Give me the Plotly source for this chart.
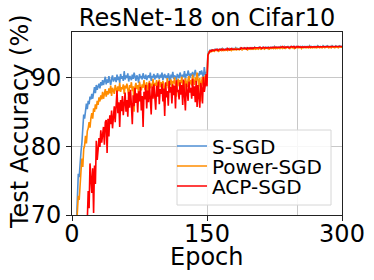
import plotly.graph_objects as go

epochs = list(range(1, 301))

s_sgd_pre = [
    45, 55, 61, 65, 69, 73.5, 76, 75.5, 78.5, 79.2,
    80.5, 83.5, 84.6, 84, 85.8, 86.2, 85.4, 86.6, 86.1, 87.2,
    86.8, 87.6, 86.9, 88.1, 88.6, 87.7, 88.9, 88.2, 88.6, 89.1,
    88.4, 89.3, 88.8, 89.6, 88.9, 89.4, 90.1, 89.0, 89.7, 89.2,
    90.2, 89.5, 88.9, 89.8, 90.3, 89.4, 89.9, 90.0, 89.3, 90.4,
    89.6, 90.1, 89.2, 90.5, 89.8, 90.2, 89.5, 90.9, 89.7, 90.3,
    89.9, 90.6, 89.4, 90.2, 90.0, 89.6, 90.4, 89.8, 90.7, 90.1,
    89.5, 90.3, 90.0, 89.2, 90.5, 89.9, 90.2, 89.7, 90.6, 90.0,
    89.8, 90.4, 89.6, 90.1, 90.3, 89.9, 90.7, 89.5, 90.2, 90.0,
    90.5, 89.7, 90.3, 89.9, 90.6, 90.1, 89.8, 90.4, 90.0, 90.7,
    89.6, 90.2, 90.5, 89.9, 90.3, 89.7, 90.6, 90.1, 88.9, 90.4,
    90.0, 90.8, 89.8, 90.3, 90.1, 89.6, 90.5, 90.2, 89.9, 90.7,
    90.3, 89.8, 90.4, 90.1, 90.9, 89.7, 90.5, 90.2, 91.0, 90.3,
    89.9, 90.6, 90.2, 90.8, 90.0, 90.5, 91.1, 90.3, 89.8, 90.6,
    90.2, 90.9, 90.4, 91.0, 90.5, 89.9, 91.5, 90.4, 90.8, 90.6,
]
s_sgd_post = [
    93.4, 93.8, 93.9, 93.8, 94.0, 93.9, 94.0, 93.9, 94.1, 94.0,
    94.0, 94.1, 93.9, 94.0, 94.1, 94.0, 94.2, 94.0, 94.1, 94.0,
    94.1, 94.2, 94.0, 94.1, 94.2, 94.1, 94.0, 94.2, 94.1, 94.2,
    94.1, 94.3, 94.1, 94.2, 94.2, 94.1, 94.3, 94.2, 94.1, 94.2,
    94.3, 94.2, 94.2, 94.3, 94.1, 94.2, 94.3, 94.2, 94.3, 94.2,
    94.3, 94.2, 94.4, 94.2, 94.3, 94.3, 94.2, 94.4, 94.3, 94.2,
    94.3, 94.4, 94.3, 94.2, 94.4, 94.3, 94.3, 94.4, 94.2, 94.3,
    94.4, 94.3, 94.4, 94.3, 94.5, 94.3, 94.4, 94.3, 94.4, 94.4,
    94.3, 94.5, 94.4, 94.3, 94.4, 94.5, 94.3, 94.4, 94.4, 94.5,
    94.4, 94.3, 94.5, 94.4, 94.4, 94.5, 94.3, 94.4, 94.5, 94.4,
    94.5, 94.4, 94.4, 94.5, 94.3, 94.5, 94.4, 94.5, 94.4, 94.5,
    94.4, 94.5, 94.4, 94.6, 94.4, 94.5, 94.4, 94.5, 94.5, 94.4,
    94.5, 94.4, 94.6, 94.5, 94.4, 94.5, 94.5, 94.4, 94.6, 94.5,
    94.4, 94.5, 94.5, 94.6, 94.4, 94.5, 94.5, 94.4, 94.6, 94.5,
    94.5, 94.4, 94.6, 94.5, 94.5, 94.4, 94.6, 94.5, 94.5, 94.5,
]

power_sgd_pre = [
    40, 50, 57, 63, 68, 70.5, 72.8, 72.2, 75.0, 76.4,
    78.2, 77.0, 79.6, 80.1, 81.5, 80.4, 82.2, 82.6, 83.5, 82.7,
    84.1, 84.8, 84.0, 85.5, 85.0, 86.1, 85.4, 86.6, 86.0, 87.1,
    86.5, 87.4, 86.8, 87.9, 86.9, 87.6, 88.3, 87.2, 88.0, 87.5,
    88.4, 87.7, 88.8, 87.3, 88.5, 88.1, 87.6, 88.9, 88.2, 87.8,
    88.7, 88.0, 89.2, 87.9, 88.6, 88.3, 89.0, 87.6, 88.8, 88.4,
    89.1, 88.2, 87.4, 88.9, 88.5, 89.3, 88.0, 88.7, 85.0, 88.6,
    89.2, 88.3, 88.9, 87.8, 89.4, 88.6, 88.1, 89.0, 88.5, 89.6,
    88.2, 88.8, 89.3, 87.9, 88.9, 89.5, 88.4, 89.1, 88.7, 89.8,
    88.5, 89.2, 88.8, 89.6, 88.3, 89.0, 89.7, 88.6, 89.3, 88.9,
    89.5, 88.7, 85.8, 89.2, 88.8, 89.9, 88.4, 89.4, 89.0, 89.7,
    88.6, 89.5, 89.1, 90.0, 88.9, 87.2, 89.3, 89.8, 88.7, 89.6,
    89.2, 90.1, 88.8, 89.5, 87.2, 89.9, 89.3, 88.6, 89.7, 90.2,
    89.0, 89.6, 88.8, 90.4, 89.4, 88.9, 90.0, 89.3, 90.7, 89.5,
    88.7, 89.9, 86.5, 89.4, 90.1, 88.8, 89.6, 90.3, 89.2, 89.8,
]
power_sgd_post = [
    93.3, 93.7, 93.8, 93.7, 93.9, 93.8, 93.9, 93.8, 94.0, 93.9,
    93.9, 94.0, 93.8, 93.9, 94.0, 93.9, 94.1, 93.9, 94.0, 93.9,
    94.0, 94.1, 93.9, 94.0, 94.1, 94.0, 93.9, 94.1, 94.0, 94.1,
    94.0, 94.2, 94.0, 94.1, 94.1, 94.0, 94.2, 94.1, 94.0, 94.1,
    94.2, 94.1, 94.1, 94.2, 94.0, 94.1, 94.2, 94.1, 94.2, 94.1,
    94.2, 94.1, 94.3, 94.1, 94.2, 94.2, 94.1, 94.3, 94.2, 94.1,
    94.2, 94.3, 94.2, 94.1, 94.3, 94.2, 94.2, 94.3, 94.1, 94.2,
    94.3, 94.2, 94.3, 94.2, 94.4, 94.2, 94.3, 94.2, 94.3, 94.3,
    94.2, 94.4, 94.3, 94.2, 94.3, 94.4, 94.2, 94.3, 94.3, 94.4,
    94.3, 94.2, 94.4, 94.3, 94.3, 94.4, 94.2, 94.3, 94.4, 94.3,
    94.4, 94.3, 94.3, 94.4, 94.2, 94.4, 94.3, 94.4, 94.3, 94.4,
    94.3, 94.4, 94.3, 94.5, 94.3, 94.4, 94.3, 94.4, 94.4, 94.3,
    94.4, 94.3, 94.5, 94.4, 94.3, 94.4, 94.4, 94.3, 94.5, 94.4,
    94.3, 94.4, 94.4, 94.5, 94.3, 94.4, 94.4, 94.3, 94.5, 94.4,
    94.4, 94.3, 94.5, 94.4, 94.4, 94.3, 94.5, 94.4, 94.4, 94.4,
]

acp_sgd_pre = [
    30, 38, 45, 50, 54, 57, 59, 61, 62, 63,
    64, 65, 66, 66.5, 67, 68.5, 69.2, 73.5, 71.0, 77.5,
    75.0, 73.2, 76.8, 70.3, 77.2, 74.5, 80.8, 78.0, 79.5, 81.2,
    79.9, 82.3, 80.5, 81.8, 82.8, 80.2, 83.5, 83.8, 79.0, 84.0,
    81.4, 84.5, 83.2, 85.2, 82.6, 84.2, 85.8, 83.5, 86.0, 88.1,
    84.8, 86.4, 82.8, 86.7, 85.1, 87.3, 84.5, 86.2, 87.8, 85.0,
    86.7, 84.3, 87.9, 85.6, 88.2, 86.0, 83.2, 87.4, 85.8, 88.5,
    86.3, 87.7, 84.9, 88.0, 86.5, 88.6, 85.2, 87.3, 82.8, 87.9,
    86.8, 88.9, 85.5, 88.1, 86.4, 89.2, 87.0, 84.6, 88.7, 86.9,
    89.0, 87.5, 85.3, 88.8, 87.2, 89.4, 86.1, 88.3, 87.6, 89.1,
    86.5, 88.4, 84.4, 89.3, 87.1, 88.0, 85.9, 89.5, 87.8, 88.6,
    86.2, 89.0, 87.4, 88.8, 85.5, 89.6, 87.9, 88.2, 86.8, 89.3,
    87.5, 88.9, 86.0, 89.7, 87.2, 85.2, 89.1, 88.0, 86.6, 89.4,
    87.8, 88.5, 86.9, 89.8, 87.3, 88.7, 86.4, 89.5, 85.7, 88.9,
    87.6, 85.6, 89.2, 88.3, 86.2, 90.1, 87.9, 88.8, 90.5, 88.7,
]
acp_sgd_post = [
    93.2, 93.7, 93.8, 93.9, 93.8, 94.0, 93.9, 93.9, 94.0, 94.0,
    94.1, 93.9, 94.0, 94.1, 94.0, 94.1, 94.0, 94.1, 94.0, 94.1,
    94.1, 94.0, 94.2, 94.1, 94.0, 94.1, 94.2, 94.1, 94.1, 94.2,
    94.1, 94.2, 94.2, 94.1, 94.2, 94.2, 94.1, 94.3, 94.2, 94.2,
    94.2, 94.3, 94.2, 94.1, 94.3, 94.2, 94.2, 94.3, 94.2, 94.3,
    94.2, 94.3, 94.3, 94.2, 94.3, 94.2, 94.3, 94.3, 94.4, 94.3,
    94.2, 94.3, 94.4, 94.3, 94.3, 94.4, 94.3, 94.3, 94.4, 94.3,
    94.4, 94.3, 94.3, 94.4, 94.4, 94.3, 94.4, 94.4, 94.3, 94.4,
    94.4, 94.3, 94.4, 94.5, 94.4, 94.3, 94.4, 94.4, 94.5, 94.4,
    94.3, 94.4, 94.4, 94.5, 94.4, 94.4, 94.5, 94.3, 94.4, 94.5,
    94.4, 94.5, 94.4, 94.4, 94.5, 94.4, 94.4, 94.5, 94.4, 94.5,
    94.5, 94.4, 94.5, 94.4, 94.5, 94.5, 94.4, 94.5, 94.4, 94.5,
    94.5, 94.4, 94.5, 94.5, 94.4, 94.5, 94.4, 94.5, 94.5, 94.4,
    94.5, 94.5, 94.4, 94.5, 94.5, 94.4, 94.5, 94.5, 94.4, 94.5,
    94.5, 94.4, 94.5, 94.5, 94.4, 94.5, 94.5, 94.4, 94.5, 94.5,
]

series_names = ["S-SGD", "Power-SGD", "ACP-SGD"]
series_values = [
    s_sgd_pre + s_sgd_post,
    power_sgd_pre + power_sgd_post,
    acp_sgd_pre + acp_sgd_post,
]
series_colors = ["#4f8fd4", "#ff8c00", "#ff0000"]

x_tick_vals = [0, 150, 300]
y_tick_vals = [70, 80, 90]

FONT = "DejaVu Sans"
W, H = 374, 280
ML, MR, MT, MB = 72, 32, 32, 65
PW, PH = W - ML - MR, H - MT - MB


def px_to_paper_y(py):
    return (H - MB - py) / PH


def px_to_paper_x(px):
    return (px - ML) / PW


legend_ids = ["legend", "legend2", "legend3"]
row_centers_px = [146, 166, 186]

fig = go.Figure()
for name, vals, col, lid in zip(series_names, series_values, series_colors, legend_ids):
    fig.add_trace(go.Scatter(
        x=epochs, y=vals, mode="lines", name=name, legend=lid,
        line=dict(color=col, width=1.6),
    ))

axis_common = dict(
    showline=True, linecolor="#222222", linewidth=1, mirror=True,
    ticks="outside", ticklen=5, tickwidth=1, tickcolor="#222222",
    showgrid=True, gridcolor="#c8c8c8", gridwidth=1,
    zeroline=False, automargin=False,
    tickfont=dict(family=FONT, size=24, color="black"),
)

legend_layout = {}
for lid, rc in zip(legend_ids, row_centers_px):
    legend_layout[lid] = dict(
        x=px_to_paper_x(172), xanchor="left",
        y=px_to_paper_y(rc), yanchor="middle",
        bgcolor="rgba(0,0,0,0)", borderwidth=0,
        font=dict(family=FONT, size=20, color="black"),
        itemwidth=30,
    )

fig.update_layout(
    width=W, height=H,
    margin=dict(l=ML, r=MR, t=MT, b=MB, autoexpand=False),
    paper_bgcolor="white", plot_bgcolor="white",
    font=dict(family=FONT, color="black"),
    title=dict(text="ResNet-18 on Cifar10", x=0.5, xref="paper",
               y=1 - 18 / H, yanchor="middle",
               font=dict(family=FONT, size=24, color="black")),
    xaxis=dict(range=[0, 300], tickvals=x_tick_vals, ticklabelstandoff=-8,
               minor=dict(tickvals=[250], showgrid=True, gridcolor="#c8c8c8", ticks=""),
               **axis_common),
    yaxis=dict(range=[70, 96.6], tickvals=y_tick_vals, **axis_common),
    showlegend=True,
    annotations=[
        dict(text="Epoch", xref="paper", yref="paper", x=0.5, y=px_to_paper_y(257),
             xanchor="center", yanchor="middle", showarrow=False,
             font=dict(family=FONT, size=24, color="black")),
        dict(text="Test Accuracy (%)", xref="paper", yref="paper",
             x=px_to_paper_x(20), y=px_to_paper_y(122), textangle=-90,
             xanchor="center", yanchor="middle", showarrow=False,
             font=dict(family=FONT, size=24, color="black")),
    ],
    shapes=[
        dict(type="rect", xref="paper", yref="paper", layer="above",
             x0=px_to_paper_x(177), x1=px_to_paper_x(331),
             y0=px_to_paper_y(205), y1=px_to_paper_y(130),
             fillcolor="rgba(255,255,255,0.85)", line=dict(color="#d6d6d6", width=1)),
    ],
    **legend_layout,
)

fig.write_html(
    "out.html",
    config={"displayModeBar": False, "staticPlot": True},
    post_script="document.body.style.margin='0';document.body.style.overflow='hidden';",
)
